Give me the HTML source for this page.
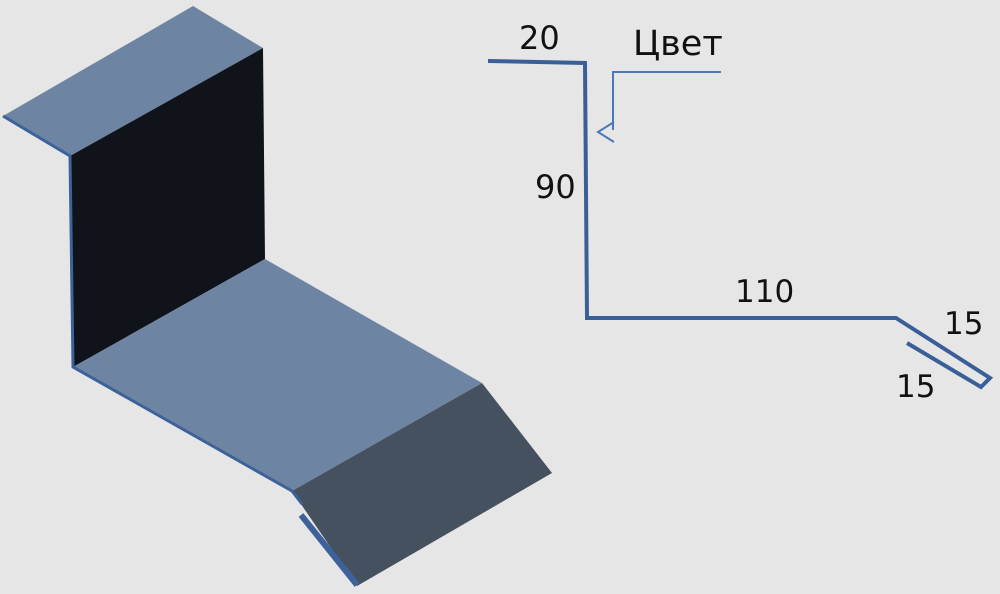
<!DOCTYPE html>
<html><head><meta charset="utf-8"><style>
html,body{margin:0;padding:0;background:#e6e6e6;}
svg{display:block}
text{font-family:"DejaVu Sans","Liberation Sans",sans-serif;fill:#111;}
</style></head><body>
<svg width="1000" height="594" viewBox="0 0 1000 594" xmlns="http://www.w3.org/2000/svg">
<rect width="1000" height="594" fill="#e6e6e6"/>
<polygon points="3,116 193,6 263,48 70,156" fill="#6e84a3"/>
<polygon points="70,156 263,48 265,259 73,367" fill="#10141a"/>
<polygon points="73,367 265,259 482,383 292,491" fill="#6e84a3"/>
<polygon points="292,491 482,383 552,473 357,586" fill="#45515f"/>
<polyline points="3,116 70,156 73,367 292,491 302,504" fill="none" stroke="#3d619a" stroke-width="3"/>
<line x1="301" y1="515" x2="357" y2="585" stroke="#3d619a" stroke-width="6"/>
<polyline points="488,61 585,63 587,318 896,318 990,378 981,387 907,343" fill="none" stroke="#3a5f98" stroke-width="4"/>
<polyline points="721,72 613,72 613,130" fill="none" stroke="#4a78b8" stroke-width="2"/>
<polyline points="614,122 598,132 614,142" fill="none" stroke="#4a78b8" stroke-width="2"/>
<text x="519" y="49" font-size="32">20</text>
<text x="633" y="55" font-size="35">Цвет</text>
<text x="535" y="198" font-size="32">90</text>
<text x="735" y="302" font-size="31">110</text>
<text x="944" y="334" font-size="31">15</text>
<text x="896" y="397" font-size="31">15</text>
</svg>
</body></html>
